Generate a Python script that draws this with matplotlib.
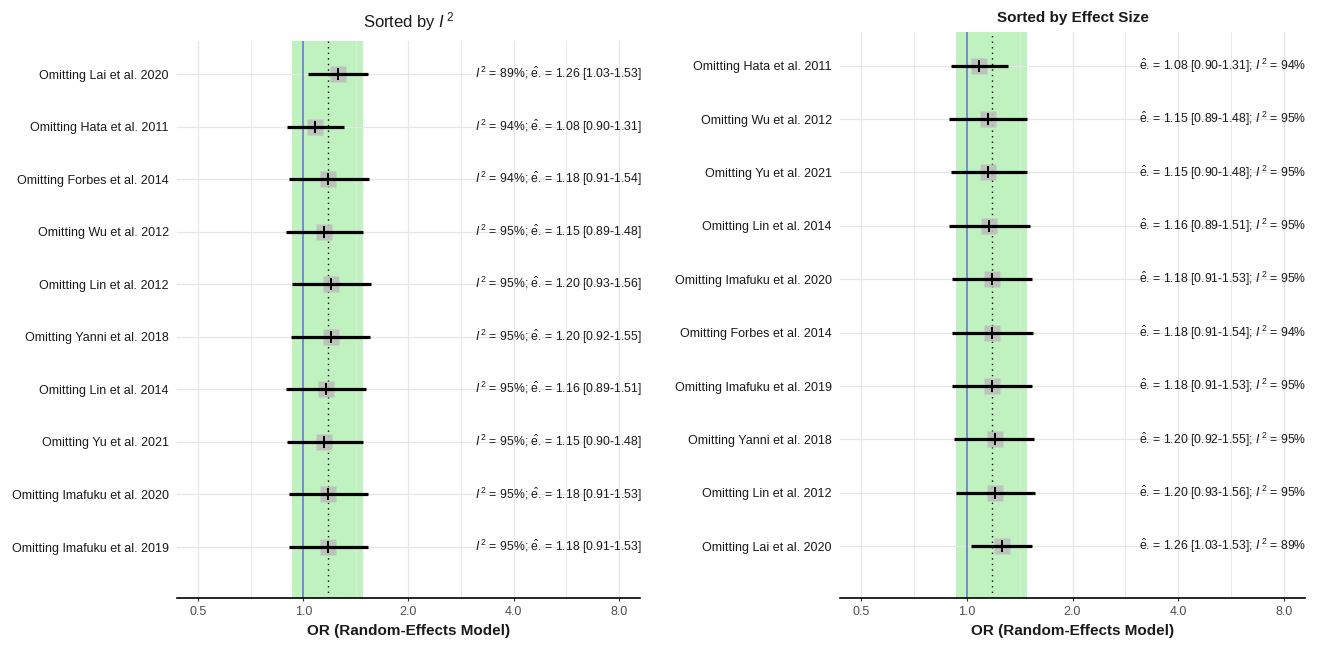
import numpy as np
import matplotlib
matplotlib.use("Agg")
import matplotlib.pyplot as plt
from matplotlib.ticker import FixedLocator, FixedFormatter, NullFormatter

plt.rcParams['font.family'] = ['Liberation Sans', 'DejaVu Sans']
plt.rcParams['mathtext.fontset'] = 'custom'
plt.rcParams['mathtext.rm'] = 'Liberation Sans'
plt.rcParams['mathtext.it'] = 'Liberation Sans:italic'
plt.rcParams['mathtext.bf'] = 'Liberation Sans:bold'

# ---- data ----
studies = ["Lai et al. 2020", "Hata et al. 2011", "Forbes et al. 2014", "Wu et al. 2012",
           "Lin et al. 2012", "Yanni et al. 2018", "Lin et al. 2014", "Yu et al. 2021",
           "Imafuku et al. 2020", "Imafuku et al. 2019"]
est = [1.26, 1.08, 1.18, 1.15, 1.20, 1.20, 1.16, 1.15, 1.18, 1.18]
lower = [1.03, 0.90, 0.91, 0.89, 0.93, 0.92, 0.89, 0.90, 0.91, 0.91]
upper = [1.53, 1.31, 1.54, 1.48, 1.56, 1.55, 1.51, 1.48, 1.53, 1.53]
i2 = [89, 94, 94, 95, 95, 95, 95, 95, 95, 95]

# row order (top to bottom) for each panel, as indices into studies
order_i2 = [0, 1, 2, 3, 4, 5, 6, 7, 8, 9]
order_es = [1, 3, 7, 6, 8, 2, 9, 5, 4, 0]

pooled_est = 1.18
pooled_lo = 0.93
pooled_hi = 1.48

x_ticks = [0.5, 1.0, 2.0, 4.0, 8.0]
x_tick_labels = ["0.5", "1.0", "2.0", "4.0", "8.0"]
x_minor = [0.5 * 2 ** 0.5, 2 ** 0.5, 2 * 2 ** 0.5, 4 * 2 ** 0.5]

W, H = 1322, 646
fig = plt.figure(figsize=(W / 100, H / 100), dpi=100)


def px_axes(x0, x1, ytop, ybot):
    return fig.add_axes([x0 / W, (H - ybot) / H, (x1 - x0) / W, (ybot - ytop) / H])


def draw_panel(ax, order, label_fmt):
    n = len(order)
    ax.set_xscale('log')
    ax.set_xlim(0.5 * 2 ** -0.2, 8 * 2 ** 0.2)
    ax.set_ylim(n - 0.03, -0.63)
    grid_c = '#e6e6e6'
    for xv in x_ticks:
        ax.axvline(xv, color=grid_c, lw=0.9, zorder=1)
    for xv in x_minor:
        ax.axvline(xv, color=grid_c, lw=0.6, zorder=1)
    for k in range(n):
        ax.axhline(k, color=grid_c, lw=0.9, zorder=1)
    ax.axvspan(pooled_lo, pooled_hi, color='#bff2bf', zorder=0.5, lw=0)
    ax.axvline(1.0, color='#5b6fd8', lw=1.1, zorder=2)
    ax.axvline(pooled_est, color='black', lw=1.0, ls=(0, (1, 3)), zorder=2)
    for k, idx in enumerate(order):
        ax.plot([est[idx]], [k], marker='s', ms=11, color='#bdbdbd', mec='none',
                alpha=0.9, zorder=3)
        ax.plot([lower[idx], upper[idx]], [k, k], color='black', lw=2.3,
                solid_capstyle='butt', zorder=4)
        ax.plot([est[idx]], [k], marker='|', ms=9, mew=1.4, color='black', zorder=5)
        ax.text(3.1, k, label_fmt(idx), ha='left', va='center', fontsize=8.8,
                color='#1a1a1a', zorder=6)
    ax.set_yticks(range(n))
    ax.set_yticklabels(["Omitting " + studies[i] for i in order], fontsize=9,
                       color='#1a1a1a')
    ax.xaxis.set_major_locator(FixedLocator(x_ticks))
    ax.xaxis.set_major_formatter(FixedFormatter(x_tick_labels))
    ax.xaxis.set_minor_locator(FixedLocator(x_minor))
    ax.xaxis.set_minor_formatter(NullFormatter())
    ax.tick_params(axis='y', length=0, pad=6)
    ax.tick_params(axis='x', which='major', length=2, color='#333333',
                   labelsize=9, labelcolor='#4d4d4d', pad=4)
    ax.tick_params(axis='x', which='minor', length=0)
    for s in ['top', 'right', 'left']:
        ax.spines[s].set_visible(False)
    ax.spines['bottom'].set_color('black')
    ax.spines['bottom'].set_linewidth(1.2)
    ax.spines['bottom'].set_zorder(7)
    ax.set_xlabel("OR (Random-Effects Model)", fontsize=11, fontweight='bold',
                  color='#1a1a1a', labelpad=4)


def fmt_i2(idx):
    return (r"$\mathit{I}^{\,2}$ = %d%%; $\hat{\mathrm{e}}$. = %.2f [%.2f-%.2f]"
            % (i2[idx], est[idx], lower[idx], upper[idx]))


def fmt_es(idx):
    return (r"$\hat{\mathrm{e}}$. = %.2f [%.2f-%.2f]; $\mathit{I}^{\,2}$ = %d%%"
            % (est[idx], lower[idx], upper[idx], i2[idx]))


ax1 = px_axes(177, 640, 41, 598)
draw_panel(ax1, order_i2, fmt_i2)
ax1.set_title(r"Sorted by $\mathit{I}^{\,2}$", fontsize=12, color='#1a1a1a', pad=10)

ax2 = px_axes(840, 1305, 32, 598)
draw_panel(ax2, order_es, fmt_es)
ax2.set_title("Sorted by Effect Size", fontsize=11, fontweight='bold',
              color='#1a1a1a', pad=7)

fig.savefig("out.png", dpi=100, facecolor='white')
